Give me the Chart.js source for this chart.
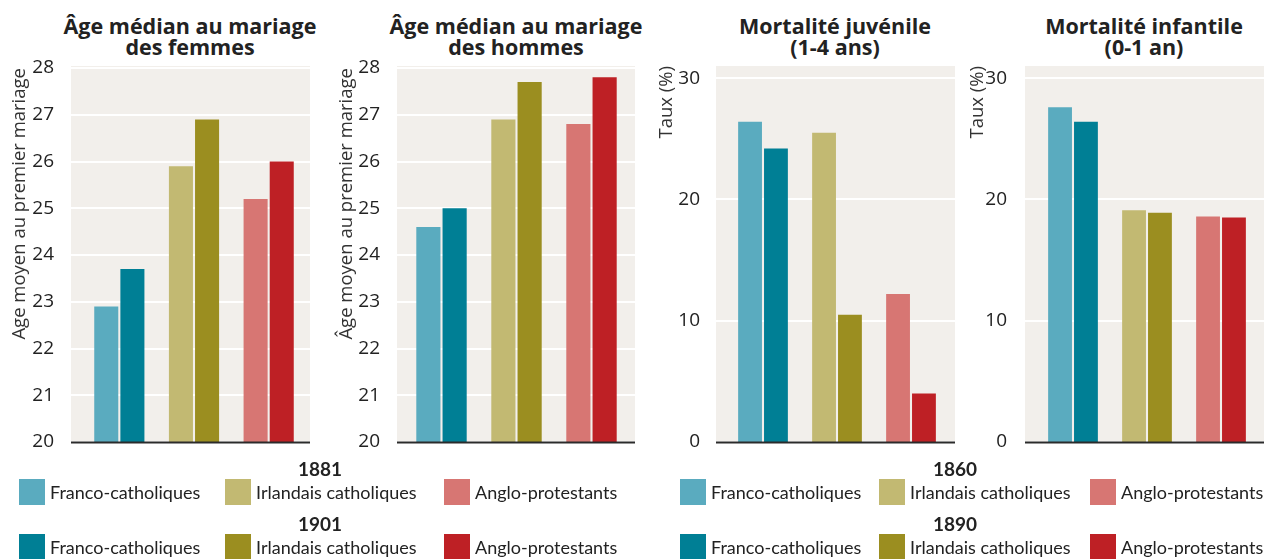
<!DOCTYPE html>
<html lang="fr">
<head>
<meta charset="utf-8">
<script src="https://cdn.jsdelivr.net/npm/chart.js@4/dist/chart.umd.min.js"></script>
<style>
  body { margin: 0; width: 1266px; height: 559px; background: #fff; position: relative; overflow: hidden; }
  canvas { position: absolute; top: 0; }
  .title { position: absolute; top: 15px; width: 320px; text-align: center; font: 700 21.5px/21px 'Open Sans', sans-serif; color: #222; }
  .yr { position: absolute; font: 700 19px/22px Lato, sans-serif; color: #222; transform: translateX(-50%); }
  .sw { position: absolute; width: 26px; height: 26px; }
  .lt { position: absolute; font: 18px/22px Lato, sans-serif; color: #222; white-space: nowrap; }
</style>
</head>
<body>
<div class="title" style="left:30px">Âge médian au mariage<br>des femmes</div>
<div class="title" style="left:356px">Âge médian au mariage<br>des hommes</div>
<div class="title" style="left:675px">Mortalité juvénile<br>(1-4 ans)</div>
<div class="title" style="left:984px">Mortalité infantile<br>(0-1 an)</div>

<canvas id="c1" width="316" height="460" style="left:0px"></canvas>
<canvas id="c2" width="312" height="460" style="left:327px"></canvas>
<canvas id="c3" width="312" height="460" style="left:647px"></canvas>
<canvas id="c4" width="308" height="460" style="left:958px"></canvas>

<div id="legend"></div>

<script>
const groups = ['Franco-catholiques', 'Irlandais catholiques', 'Anglo-protestants'];

const femmes1881 = [22.9, 25.9, 25.2];
const femmes1901 = [23.7, 26.9, 26.0];
const hommes1881 = [24.6, 26.9, 26.8];
const hommes1901 = [25.0, 27.7, 27.8];
const juvenile1860 = [26.4, 25.5, 12.2];
const juvenile1890 = [24.2, 10.5, 4.0];
const infantile1860 = [27.6, 19.1, 18.6];
const infantile1890 = [26.4, 18.9, 18.5];

const lightColors = ['#5aabbf', '#c2b972', '#d77673'];
const darkColors = ['#007f95', '#9b8e20', '#be2025'];

const ageTicks = [20, 21, 22, 23, 24, 25, 26, 27, 28];
const rateTicks = [0, 10, 20, 30];

// fond beige + lignes blanches, un peu plus large que la zone des barres
const panelBg = {
  id: 'panelBg',
  beforeDraw(chart, args, opts) {
    const { ctx, chartArea: a, scales: { y } } = chart;
    const left = a.left - opts.padLeft;
    const right = a.right + opts.padRight;
    const top = a.top - opts.padTop;
    ctx.save();
    ctx.fillStyle = '#f2efeb';
    ctx.fillRect(left, top, right - left, a.bottom - top);
    ctx.strokeStyle = '#ffffff';
    ctx.lineWidth = 2;
    y.ticks.forEach((t) => {
      const py = Math.round(y.getPixelForValue(t.value));
      ctx.beginPath();
      ctx.moveTo(left, py);
      ctx.lineTo(right, py);
      ctx.stroke();
    });
    ctx.restore();
  },
  afterDatasetsDraw(chart, args, opts) {
    const { ctx, chartArea: a, scales: { y } } = chart;
    const py = Math.round(y.getPixelForValue(y.min)) + 0.5;
    ctx.save();
    ctx.strokeStyle = '#2b2b2b';
    ctx.lineWidth = 2;
    ctx.beginPath();
    ctx.moveTo(a.left - opts.padLeft, py);
    ctx.lineTo(a.right + opts.padRight, py);
    ctx.stroke();
    ctx.restore();
  }
};

function makeChart(id, first, second, cfg) {
  new Chart(document.getElementById(id), {
    type: 'bar',
    data: {
      labels: groups,
      datasets: [
        { label: cfg.years[0], data: first, backgroundColor: lightColors },
        { label: cfg.years[1], data: second, backgroundColor: darkColors }
      ]
    },
    options: {
      responsive: false,
      animation: false,
      devicePixelRatio: 1,
      layout: { padding: { left: 0, right: cfg.right, top: cfg.top, bottom: 18 } },
      datasets: { bar: { categoryPercentage: 0.7, barPercentage: 0.92 } },
      scales: {
        x: { display: false },
        y: {
          min: cfg.min,
          max: cfg.max,
          grid: { display: false },
          border: { display: false },
          afterFit: (scale) => {
            scale.width = cfg.axisWidth;
            // sinon le padding des ticks pousse la zone du graphe vers le haut
            scale.paddingTop = 0;
            scale.paddingBottom = 0;
          },
          afterBuildTicks: (scale) => { scale.ticks = cfg.ticks.map((v) => ({ value: v })); },
          ticks: {
            autoSkip: false,
            padding: cfg.tickPad,
            color: '#222',
            font: { family: "'Open Sans', sans-serif", size: 19 }
          },
          title: {
            display: true,
            text: cfg.yTitle,
            align: 'end',
            color: '#333',
            padding: { top: 9, bottom: 0 },
            font: { family: "'Open Sans', sans-serif", size: 18.5 }
          }
        }
      },
      plugins: {
        legend: { display: false },
        tooltip: { enabled: false },
        panelBg: cfg.bg
      }
    },
    plugins: [panelBg]
  });
}

makeChart('c1', femmes1881, femmes1901, {
  years: ['1881', '1901'], min: 20, max: 28, ticks: ageTicks, top: 68, right: 10,
  axisWidth: 82, tickPad: 20, yTitle: 'Age moyen au premier mariage',
  bg: { padLeft: 11, padRight: 4, padTop: 2 }
});
makeChart('c2', hommes1881, hommes1901, {
  years: ['1881', '1901'], min: 20, max: 28, ticks: ageTicks, top: 68, right: 10,
  axisWidth: 77, tickPad: 16, yTitle: 'Âge moyen au premier mariage',
  bg: { padLeft: 7, padRight: 6, padTop: 2 }
});
makeChart('c3', juvenile1860, juvenile1890, {
  years: ['1860', '1890'], min: 0, max: 31, ticks: rateTicks, top: 66, right: 11,
  axisWidth: 79, tickPad: 18, yTitle: 'Taux (%)',
  bg: { padLeft: 10, padRight: 7, padTop: 0 }
});
makeChart('c4', infantile1860, infantile1890, {
  years: ['1860', '1890'], min: 0, max: 31, ticks: rateTicks, top: 66, right: 8,
  axisWidth: 78, tickPad: 21, yTitle: 'Taux (%)',
  bg: { padLeft: 11, padRight: 6, padTop: 0 }
});

// légendes en HTML
const legendBlocks = [
  { years: ['1881', '1901'], center: 320, swatchX: [19, 225, 444] },
  { years: ['1860', '1890'], center: 955, swatchX: [680, 879, 1090] }
];
const rowsY = [{ head: 458, sw: 479 }, { head: 513, sw: 534 }];
const legend = document.getElementById('legend');
legendBlocks.forEach((block) => {
  block.years.forEach((yr, r) => {
    const head = document.createElement('div');
    head.className = 'yr';
    head.style.left = block.center + 'px';
    head.style.top = rowsY[r].head + 'px';
    head.textContent = yr;
    legend.appendChild(head);
    groups.forEach((g, i) => {
      const sw = document.createElement('div');
      sw.className = 'sw';
      sw.style.left = block.swatchX[i] + 'px';
      sw.style.top = rowsY[r].sw + 'px';
      sw.style.background = r === 0 ? lightColors[i] : darkColors[i];
      legend.appendChild(sw);
      const t = document.createElement('div');
      t.className = 'lt';
      t.style.left = (block.swatchX[i] + 31) + 'px';
      t.style.top = (rowsY[r].sw + 2) + 'px';
      t.textContent = g;
      legend.appendChild(t);
    });
  });
});
</script>
</body>
</html>
